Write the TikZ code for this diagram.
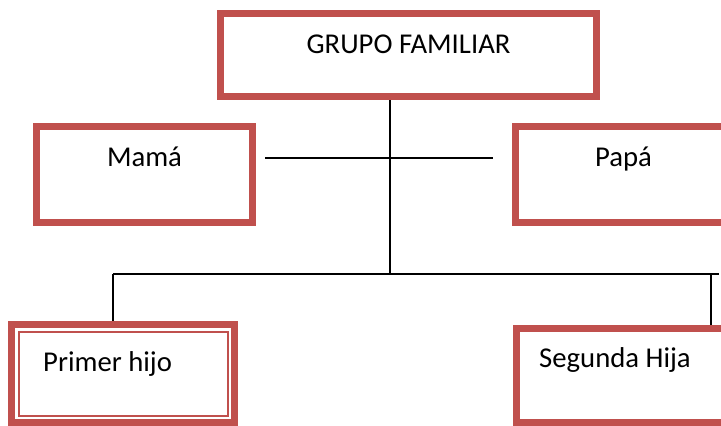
\documentclass[tikz,border=0pt]{standalone}
\usepackage{fontspec}
\setmainfont{Carlito}
\definecolor{famRed}{RGB}{192,80,77}
\tikzset{
  famBox/.style={draw=famRed,line width=7pt,rectangle,inner sep=0pt,fill=white},
  famThin/.style={draw=famRed,line width=2pt,rectangle,inner sep=0pt},
  famText/.style={font=\fontsize{28.7}{34}\selectfont,inner sep=0pt},
  link/.style={line width=1.6pt}
}
\begin{document}
\begin{tikzpicture}[x=1pt,y=-1pt]
    \useasboundingbox (0,0) rectangle (721,426);
    \clip (0,0) rectangle (721,426);

    % Define points
    \coordinate (hub) at (390,274);
    \coordinate (parL) at (265,158);
    \coordinate (parR) at (493,158);
    \coordinate (busL) at (113,274);
    \coordinate (busR) at (719,274);
    \coordinate (dropR) at (711,274);

    % Boxes
    \node[famBox,minimum width=376pt,minimum height=83pt] (grupo) at (408.5,55) {};
    \node[famBox,minimum width=216pt,minimum height=96pt] (mama) at (144.5,174.5) {};
    \node[famBox,minimum width=216pt,minimum height=96pt] (papa) at (623.5,174.5) {};
    \node[famBox,minimum width=223pt,minimum height=98pt] (hijo) at (123,373.5) {};
    \node[famThin,minimum width=209pt,minimum height=84pt] (hijoIn) at (hijo.center) {};
    \node[famBox,minimum width=230pt,minimum height=94pt] (hija) at (631.5,375.5) {};

    % Texts
    \node[famText,anchor=base] (grupoT) at (408.5,53) {GRUPO FAMILIAR};
    \node[famText,anchor=base] (mamaT) at (144.5,166.5) {Mamá};
    \node[famText,anchor=base] (papaT) at (623.5,166.5) {Papá};
    \node[famText,anchor=base west] (hijoT) at (43,371.5) {Primer hijo};
    \node[famText,anchor=base west] (hijaT) at (539,367.5) {Segunda Hija};

    % Draw lines
    \draw[link] (grupo.south -| hub) -- (hub);
    \draw[link] (parL) -- (parR);
    \draw[link] (busL) -- (busR);
    \draw[link] (busL) -- (busL |- hijo.north);
    \draw[link] (dropR) -- (dropR |- hija.north);
\end{tikzpicture}
\end{document}
